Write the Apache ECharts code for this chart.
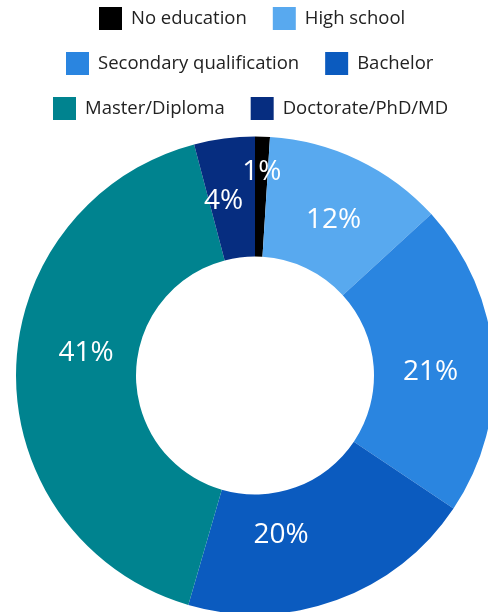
<!DOCTYPE html>
<html>
<head>
<meta charset="utf-8">
<script src="https://cdn.jsdelivr.net/npm/echarts@6/dist/echarts.min.js"></script>
<style>
html,body{margin:0;padding:0;background:#fff;}
#chart{width:488px;height:612px;}
</style>
</head>
<body>
<div id="chart"></div>
<script>
const categories = ["No education", "High school", "Secondary qualification", "Bachelor", "Master/Diploma", "Doctorate/PhD/MD"];
const shares = [1.0, 12.2, 21.2, 20.1, 41.4, 4.1];
const colors = ["#000000", "#58a9ef", "#2a85e0", "#0b5bbf", "#00838f", "#062d80"];
const labelNudge = [[1, -22], [0, 9], [-6, 10], [-36, -12], [13, -20], [-8, 6]];

const chart = echarts.init(document.getElementById('chart'), null, {renderer: 'canvas'});
const font = '"Open Sans", sans-serif';
const legendRows = [[0, 1], [2, 3], [4, 5]];
const legendTops = [2, 47, 92];
const legendLefts = [94, 61, 48];

chart.setOption({
  animation: false,
  color: colors,
  legend: legendRows.map((row, i) => ({
    data: row.map(k => categories[k]),
    top: legendTops[i],
    left: legendLefts[i],
    orient: 'horizontal',
    icon: 'rect',
    itemWidth: 23,
    itemHeight: 23,
    itemGap: 26,
    textStyle: {fontFamily: font, fontSize: 18.5, color: '#222222', padding: [0, 0, 0, 4]},
    selectedMode: false
  })),
  series: [{
    type: 'pie',
    center: [255, 375.5],
    radius: [119, 239],
    startAngle: 90,
    clockwise: true,
    avoidLabelOverlap: false,
    data: categories.map((c, i) => ({name: c, value: shares[i]})),
    label: {
      show: true,
      position: 'inside',
      formatter: p => Math.round(p.value) + '%',
      color: '#ffffff',
      fontFamily: font,
      fontSize: 28
    },
    labelLine: {show: false},
    labelLayout: p => ({dx: labelNudge[p.dataIndex][0], dy: labelNudge[p.dataIndex][1]}),
    emphasis: {disabled: true}
  }]
});
</script>
</body>
</html>
